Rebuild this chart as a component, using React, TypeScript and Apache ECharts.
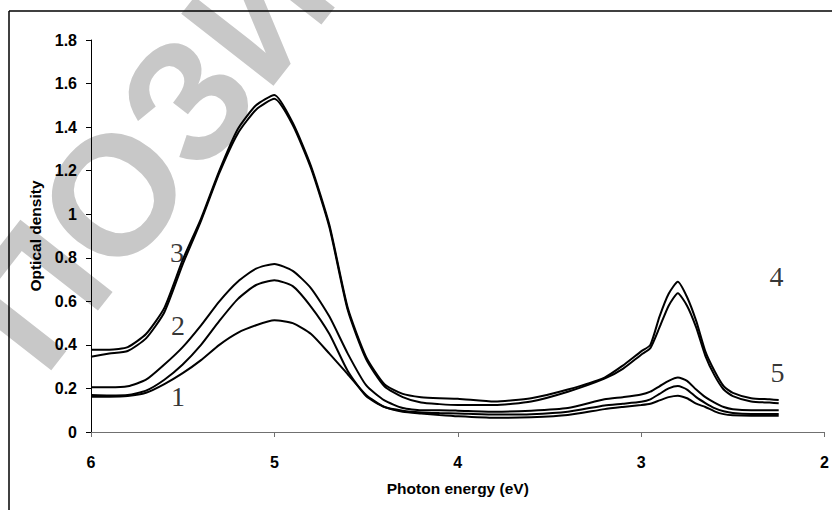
import React, { useEffect, useRef } from "react";
import * as echarts from "echarts";

const energy = [6.0, 5.9, 5.8, 5.7, 5.6, 5.5, 5.4, 5.3, 5.2, 5.1, 5.0, 4.9, 4.8, 4.7, 4.6, 4.5, 4.4, 4.3, 4.2, 4.1, 4.0, 3.8, 3.6, 3.4, 3.2, 3.1, 3.0, 2.95, 2.9, 2.85, 2.8, 2.75, 2.7, 2.65, 2.6, 2.55, 2.5, 2.4, 2.3, 2.25];

const curveA = [0.378, 0.378, 0.39, 0.45, 0.57, 0.79, 0.98, 1.2, 1.39, 1.5, 1.548, 1.42, 1.22, 0.95, 0.57, 0.345, 0.22, 0.175, 0.16, 0.155, 0.153, 0.14, 0.155, 0.195, 0.25, 0.305, 0.37, 0.4, 0.53, 0.635, 0.69, 0.62, 0.51, 0.37, 0.28, 0.21, 0.18, 0.155, 0.15, 0.147];
const curveB = [0.346, 0.36, 0.372, 0.43, 0.55, 0.77, 0.97, 1.19, 1.37, 1.48, 1.53, 1.41, 1.21, 0.94, 0.56, 0.335, 0.21, 0.16, 0.135, 0.128, 0.124, 0.124, 0.14, 0.185, 0.245, 0.29, 0.355, 0.385, 0.48, 0.58, 0.637, 0.58, 0.48, 0.35, 0.26, 0.195, 0.165, 0.14, 0.135, 0.132];
const curveC = [0.205, 0.205, 0.21, 0.24, 0.31, 0.39, 0.49, 0.6, 0.69, 0.75, 0.772, 0.74, 0.66, 0.53, 0.36, 0.215, 0.145, 0.11, 0.1, 0.1, 0.098, 0.093, 0.098, 0.11, 0.15, 0.16, 0.172, 0.185, 0.21, 0.235, 0.25, 0.235, 0.195, 0.16, 0.135, 0.115, 0.105, 0.1, 0.1, 0.1];
const curveD = [0.17, 0.168, 0.17, 0.19, 0.24, 0.31, 0.4, 0.51, 0.61, 0.675, 0.697, 0.67, 0.575, 0.45, 0.28, 0.165, 0.115, 0.098, 0.09, 0.087, 0.085, 0.08, 0.082, 0.093, 0.122, 0.13, 0.139, 0.15, 0.175, 0.2, 0.211, 0.195, 0.16, 0.133, 0.11, 0.095, 0.087, 0.083, 0.083, 0.083];
const curveE = [0.162, 0.162, 0.165, 0.18, 0.22, 0.27, 0.33, 0.4, 0.455, 0.49, 0.513, 0.5, 0.45, 0.36, 0.265, 0.17, 0.115, 0.093, 0.085, 0.078, 0.072, 0.065, 0.068, 0.078, 0.105, 0.115, 0.124, 0.13, 0.145, 0.16, 0.167, 0.155, 0.13, 0.115, 0.095, 0.082, 0.077, 0.075, 0.075, 0.075];

const curves = [curveA, curveB, curveC, curveD, curveE];

const labelTexts = ["3", "2", "1", "4", "5"];
const labelX = [5.531, 5.526, 5.526, 2.262, 2.256];
const labelY = [0.822, 0.491, 0.161, 0.712, 0.271];

const xTitle = "Photon energy (eV)";
const yTitle = "Optical density";
const watermark = "ПОЗИТИВ";

export default function App() {
  const ref = useRef<HTMLDivElement>(null);
  useEffect(() => {
    if (!ref.current) return;
    const chart = echarts.init(ref.current, null, { renderer: "svg" });
    const sans = "'Liberation Sans', Arial, sans-serif";
    const series: any[] = curves.map((c) => ({
      type: "line",
      data: energy.map((e, i) => [e, c[i]]),
      showSymbol: false,
      smooth: 0.2,
      lineStyle: { color: "#000", width: 2 },
      z: 3,
    }));
    series.push({
      type: "scatter",
      data: labelX.map((x, i) => ({ value: [x, labelY[i]], name: labelTexts[i] })),
      symbolSize: 1,
      itemStyle: { color: "rgba(0,0,0,0)" },
      label: {
        show: true,
        position: "inside",
        formatter: (p: any) => p.name,
        fontFamily: "'Liberation Serif', 'Times New Roman', serif",
        fontSize: 28,
        color: "#000",
      },
      clip: false,
      z: 4,
    });
    const ang = (52 * Math.PI) / 180;
    const fs = 170;
    const startX = 114 - 1.111 * fs * Math.cos(ang);
    const startY = 194 + 1.111 * fs * Math.sin(ang);
    chart.setOption({
      animation: false,
      backgroundColor: "#fff",
      grid: { left: 91, right: 7, top: 40, bottom: 78 },
      xAxis: {
        type: "value",
        min: 2,
        max: 6,
        interval: 1,
        inverse: true,
        name: xTitle,
        nameLocation: "middle",
        nameGap: 48,
        nameTextStyle: { fontFamily: sans, fontWeight: "bold", fontSize: 15.5, color: "#000" },
        axisLine: { lineStyle: { color: "#707070", width: 1 } },
        axisTick: { show: true, length: 5, lineStyle: { color: "#707070" } },
        axisLabel: { fontFamily: sans, fontWeight: "bold", fontSize: 16, color: "#000", margin: 22 },
        splitLine: { show: false },
      },
      yAxis: {
        type: "value",
        min: 0,
        max: 1.8,
        interval: 0.2,
        name: yTitle,
        nameLocation: "middle",
        nameGap: 47,
        nameTextStyle: { fontFamily: sans, fontWeight: "bold", fontSize: 15.5, color: "#000" },
        axisLine: { show: true, lineStyle: { color: "#000", width: 1 } },
        axisTick: { show: true, length: 5, lineStyle: { color: "#000" } },
        axisLabel: { fontFamily: sans, fontWeight: "bold", fontSize: 16, color: "#000", margin: 14 },
        splitLine: { show: false },
      },
      graphic: [
        {
          type: "text",
          x: startX,
          y: startY,
          rotation: ang,
          z: -10,
          silent: true,
          style: {
            text: watermark,
            fontFamily: sans,
            fontWeight: "bold",
            fontSize: fs,
            fill: "#c8c8c8",
            align: "left",
            verticalAlign: "middle",
          },
        },
        {
          type: "line",
          z: 10,
          shape: { x1: 9, y1: 11, x2: 832, y2: 11 },
          style: { stroke: "#000", lineWidth: 1.5 },
        },
        {
          type: "line",
          z: 10,
          shape: { x1: 9, y1: 11, x2: 9, y2: 510 },
          style: { stroke: "#000", lineWidth: 1.5 },
        },
      ],
      series,
    });
    return () => chart.dispose();
  }, []);
  return (
    <div
      ref={ref}
      style={{ position: "absolute", left: 0, top: 0, width: 832, height: 510 }}
    />
  );
}
